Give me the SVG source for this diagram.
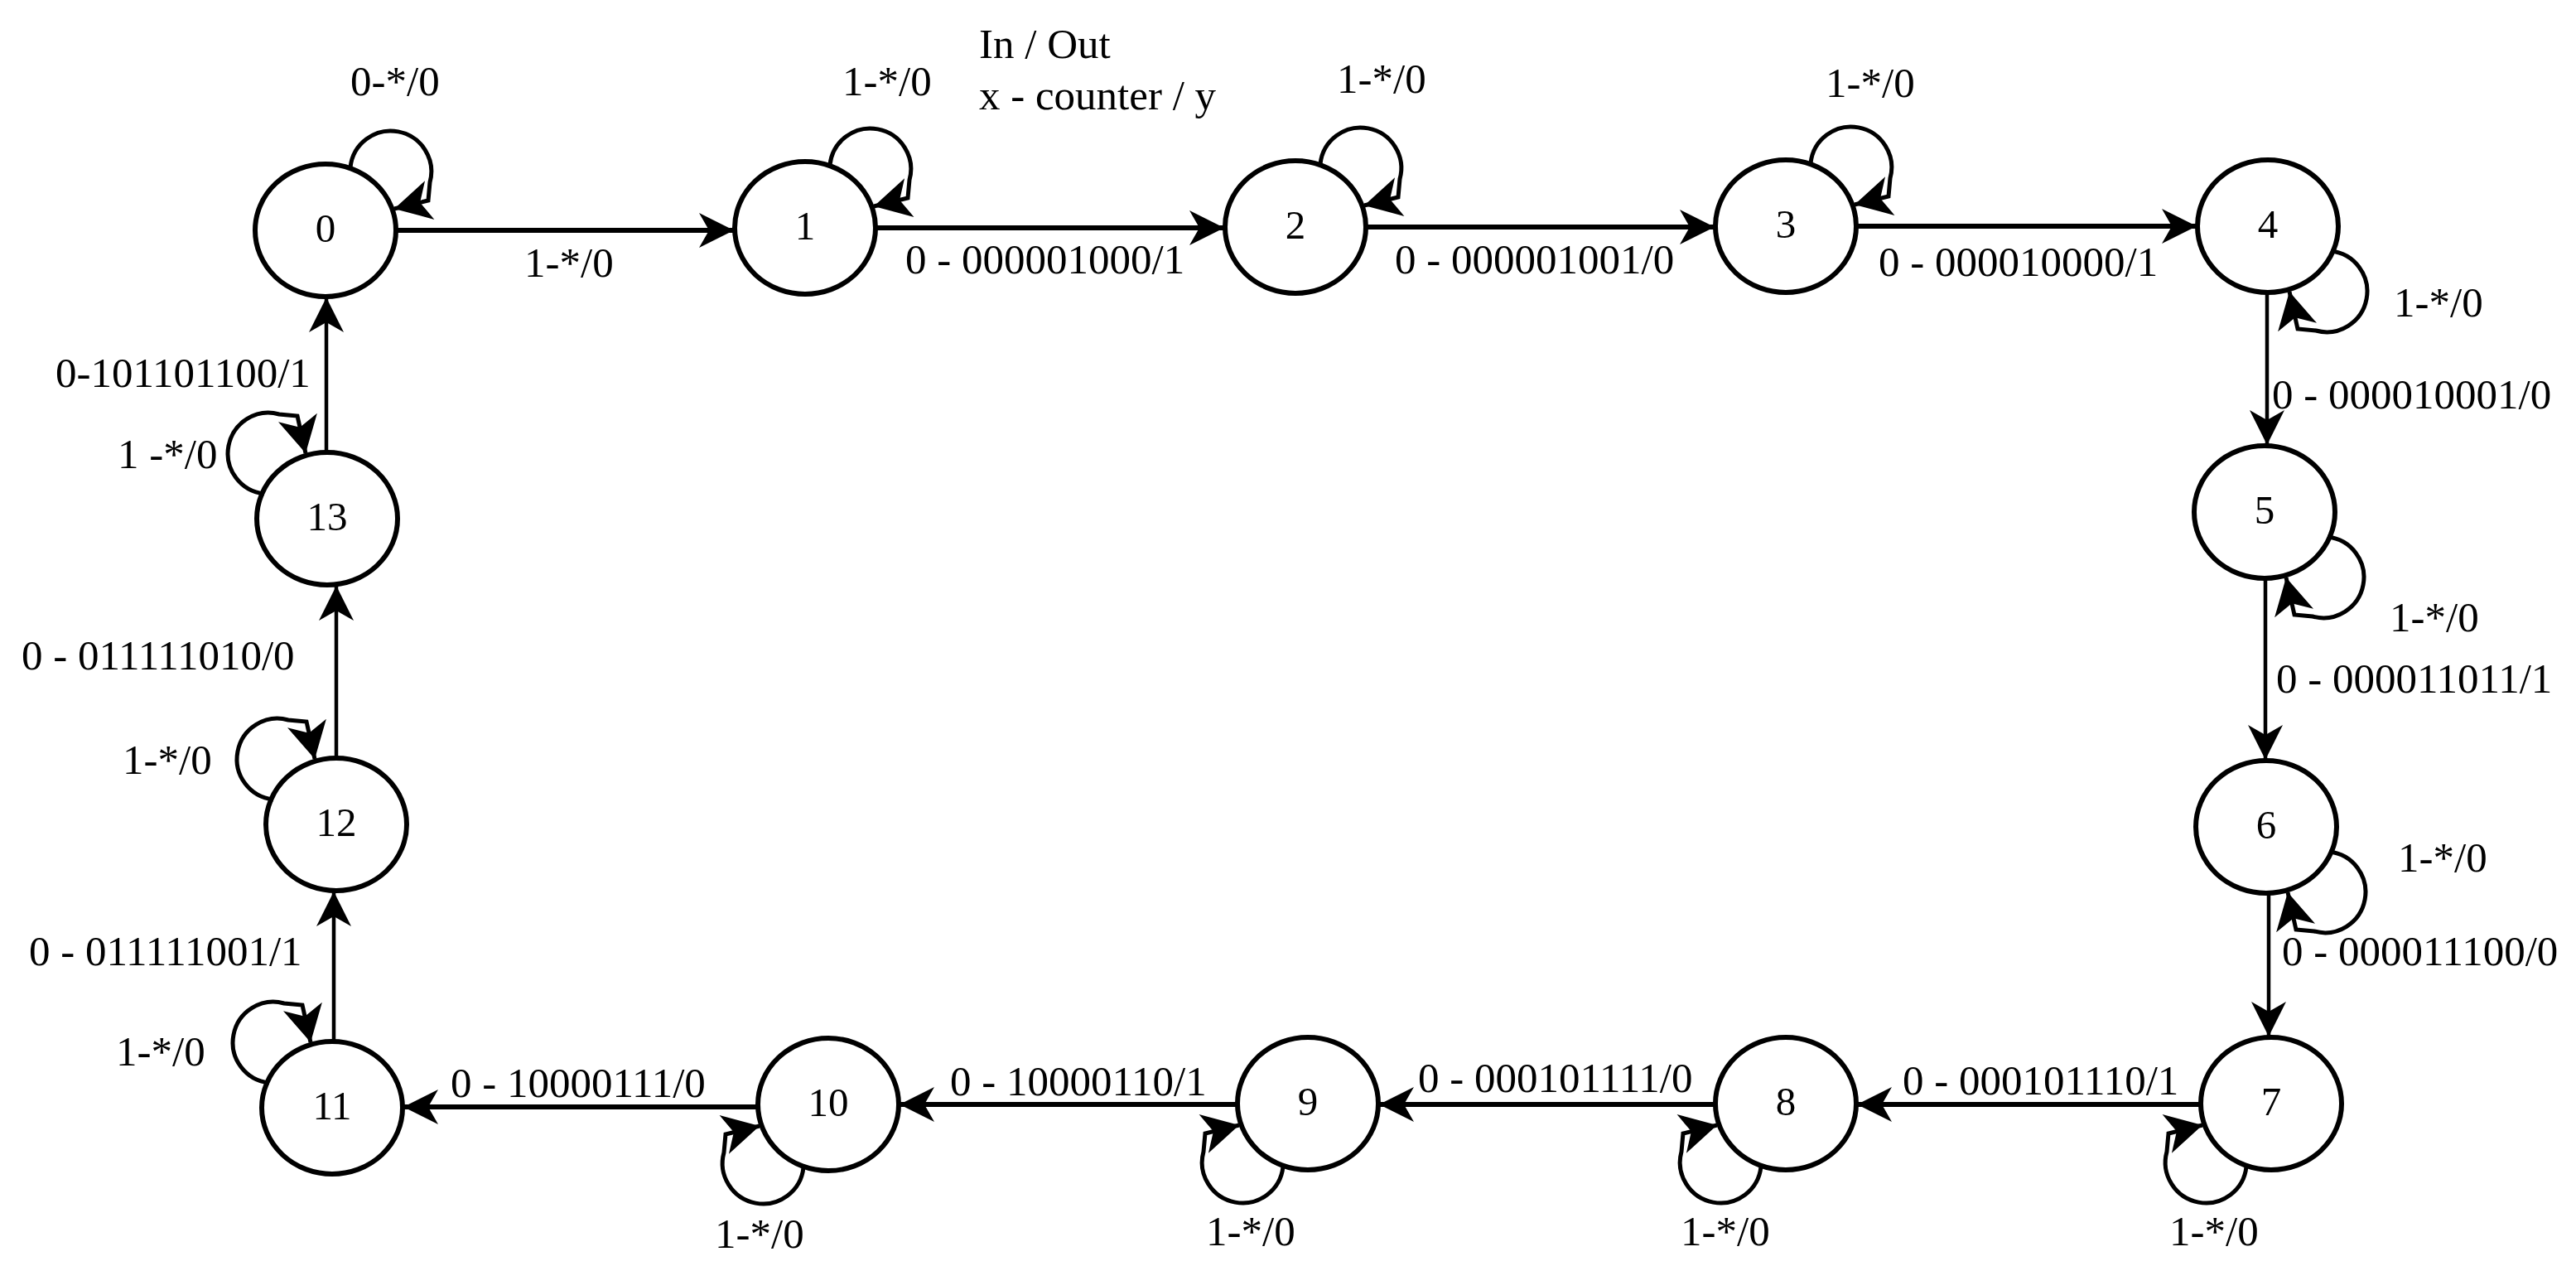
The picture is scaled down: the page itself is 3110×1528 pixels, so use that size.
<svg xmlns="http://www.w3.org/2000/svg" width="3110" height="1528" viewBox="0 0 3110 1528">
<defs>
<marker id="arr" markerUnits="userSpaceOnUse" markerWidth="46" markerHeight="46" viewBox="0 0 46 46" refX="44" refY="23" orient="auto">
<path d="M2,2 L44,23 L2,44 L14,23 Z" fill="#000"/>
</marker>
<marker id="arrL" markerUnits="userSpaceOnUse" markerWidth="48" markerHeight="52" viewBox="0 0 48 52" refX="46" refY="26" orient="auto">
<path d="M2,2 L46,26 L2,50 L14,26 Z" fill="#000"/>
</marker>
<style>
.node ellipse{fill:#fff;stroke:#000;stroke-width:6}
.node text{font-family:"Liberation Serif","Times New Roman",serif;font-size:49px;text-anchor:middle;fill:#000}
.edge{fill:none;stroke:#000;marker-end:url(#arr)}
.h{stroke-width:6}
.v{stroke-width:4.5}
.loop{fill:none;stroke:#000;stroke-width:5;marker-end:url(#arrL)}
.lbl{font-family:"Liberation Serif","Times New Roman",serif;font-size:51px;fill:#000}
</style>
</defs>
<rect width="3110" height="1528" fill="#fff"/>
<g id="nodes">
<g id="n0" class="node"><ellipse cx="393" cy="278" rx="85" ry="80"/><text x="393" y="292">0</text></g>
<g id="n1" class="node"><ellipse cx="972" cy="275" rx="85" ry="80"/><text x="972" y="289">1</text></g>
<g id="n2" class="node"><ellipse cx="1564" cy="274" rx="85" ry="80"/><text x="1564" y="288">2</text></g>
<g id="n3" class="node"><ellipse cx="2156" cy="273" rx="85" ry="80"/><text x="2156" y="287">3</text></g>
<g id="n4" class="node"><ellipse cx="2738" cy="273" rx="85" ry="80"/><text x="2738" y="287">4</text></g>
<g id="n5" class="node"><ellipse cx="2734" cy="618" rx="85" ry="80"/><text x="2734" y="632">5</text></g>
<g id="n6" class="node"><ellipse cx="2736" cy="998" rx="85" ry="80"/><text x="2736" y="1012">6</text></g>
<g id="n7" class="node"><ellipse cx="2742" cy="1332" rx="85" ry="80"/><text x="2742" y="1346">7</text></g>
<g id="n8" class="node"><ellipse cx="2156" cy="1332" rx="85" ry="80"/><text x="2156" y="1346">8</text></g>
<g id="n9" class="node"><ellipse cx="1579" cy="1332" rx="85" ry="80"/><text x="1579" y="1346">9</text></g>
<g id="n10" class="node"><ellipse cx="1000" cy="1333" rx="85" ry="80"/><text x="1000" y="1347">10</text></g>
<g id="n11" class="node"><ellipse cx="401" cy="1337" rx="85" ry="80"/><text x="401" y="1351">11</text></g>
<g id="n12" class="node"><ellipse cx="406" cy="995" rx="85" ry="80"/><text x="406" y="1009">12</text></g>
<g id="n13" class="node"><ellipse cx="395" cy="626" rx="85" ry="80"/><text x="395" y="640">13</text></g>
</g>
<g id="connectors">
<path class="edge h" d="M479,278 H886"/>
<path class="edge h" d="M1058,275 H1478"/>
<path class="edge h" d="M1650,274 H2070"/>
<path class="edge h" d="M2242,273 H2652"/>
<path class="edge v" d="M2737,354 V537"/>
<path class="edge v" d="M2735,699 V917"/>
<path class="edge v" d="M2739,1079 V1251"/>
<path class="edge h" d="M2656,1333 H2242"/>
<path class="edge h" d="M2070,1333 H1665"/>
<path class="edge h" d="M1493,1333 H1086"/>
<path class="edge h" d="M914,1336 H487"/>
<path class="edge v" d="M403,1256 V1076"/>
<path class="edge v" d="M406,914 V707"/>
<path class="edge v" d="M394,545 V359"/>
<path class="loop" transform="translate(393,278)" d="M30,-76 A49 49 0 1 1 126,-58 L124,-36 L83,-26"/>
<path class="loop" transform="translate(972,275)" d="M30,-76 A49 49 0 1 1 126,-58 L124,-36 L83,-26"/>
<path class="loop" transform="translate(1564,274)" d="M30,-76 A49 49 0 1 1 126,-58 L124,-36 L83,-26"/>
<path class="loop" transform="translate(2156,273)" d="M30,-76 A49 49 0 1 1 126,-58 L124,-36 L83,-26"/>
<path class="loop" transform="translate(2738,273) rotate(90)" d="M30,-76 A49 49 0 1 1 126,-58 L124,-36 L79,-26"/>
<path class="loop" transform="translate(2734,618) rotate(90)" d="M30,-76 A49 49 0 1 1 126,-58 L124,-36 L79,-26"/>
<path class="loop" transform="translate(2736,998) rotate(90)" d="M30,-76 A49 49 0 1 1 126,-58 L124,-36 L79,-26"/>
<path class="loop" transform="translate(2742,1332) rotate(180)" d="M30,-76 A49 49 0 1 1 126,-58 L124,-36 L83,-26"/>
<path class="loop" transform="translate(2156,1332) rotate(180)" d="M30,-76 A49 49 0 1 1 126,-58 L124,-36 L83,-26"/>
<path class="loop" transform="translate(1579,1332) rotate(180)" d="M30,-76 A49 49 0 1 1 126,-58 L124,-36 L83,-26"/>
<path class="loop" transform="translate(1000,1333) rotate(180)" d="M30,-76 A49 49 0 1 1 126,-58 L124,-36 L83,-26"/>
<path class="loop" transform="translate(401,1337) rotate(270)" d="M30,-76 A49 49 0 1 1 126,-58 L124,-36 L79,-26"/>
<path class="loop" transform="translate(406,995) rotate(270)" d="M30,-76 A49 49 0 1 1 126,-58 L124,-36 L79,-26"/>
<path class="loop" transform="translate(395,626) rotate(270)" d="M30,-76 A49 49 0 1 1 126,-58 L124,-36 L79,-26"/>
</g>
<g id="labels" class="lbl">
<text x="1182" y="70">In / Out</text>
<text x="1182" y="132">x - counter / y</text>
<text x="423" y="115">0-*/0</text>
<text x="1017" y="115">1-*/0</text>
<text x="1614" y="112">1-*/0</text>
<text x="2204" y="117">1-*/0</text>
<text x="2890" y="382">1-*/0</text>
<text x="2885" y="762">1-*/0</text>
<text x="2895" y="1052">1-*/0</text>
<text x="2619" y="1503">1-*/0</text>
<text x="2029" y="1503">1-*/0</text>
<text x="1456" y="1503">1-*/0</text>
<text x="863" y="1506">1-*/0</text>
<text x="140" y="1286">1-*/0</text>
<text x="148" y="934">1-*/0</text>
<text x="142" y="565">1 -*/0</text>
<text x="633" y="334">1-*/0</text>
<text x="1093" y="330">0 - 000001000/1</text>
<text x="1684" y="330">0 - 000001001/0</text>
<text x="2268" y="333">0 - 000010000/1</text>
<text x="2743" y="493">0 - 000010001/0</text>
<text x="2748" y="836">0 - 000011011/1</text>
<text x="2755" y="1165">0 - 000011100/0</text>
<text x="2297" y="1321">0 - 000101110/1</text>
<text x="1712" y="1318">0 - 000101111/0</text>
<text x="1147" y="1322">0 - 10000110/1</text>
<text x="544" y="1324">0 - 10000111/0</text>
<text x="35" y="1165">0 - 011111001/1</text>
<text x="26" y="808">0 - 011111010/0</text>
<text x="67" y="467">0-101101100/1</text>
</g>
</svg>
